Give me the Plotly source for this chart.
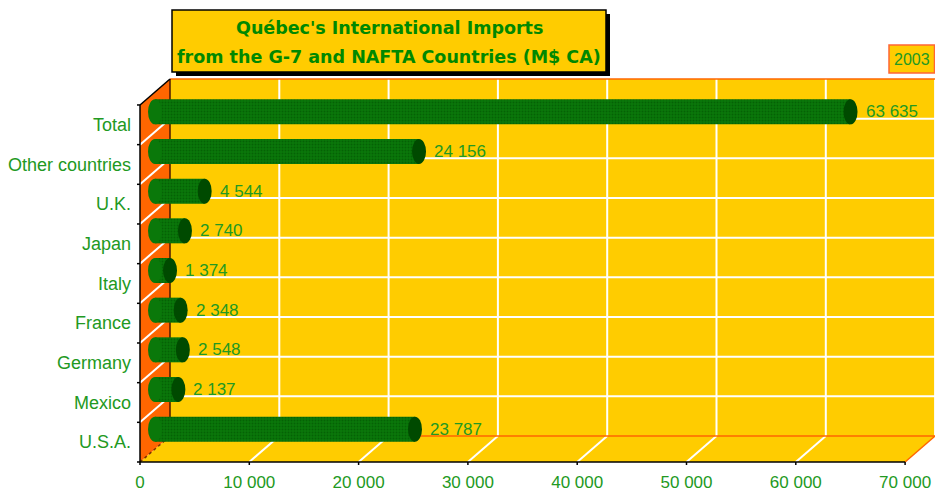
import plotly.graph_objects as go

# ---------------- data ----------------
categories = ["U.S.A.", "Mexico", "Germany", "France", "Italy", "Japan", "U.K.",
              "Other countries", "Total"]
values = [23787, 2137, 2548, 2348, 1374, 2740, 4544, 24156, 63635]
x_ticks = [0, 10000, 20000, 30000, 40000, 50000, 60000, 70000]
title_lines = ["Québec's International Imports",
               "from the G-7 and NAFTA Countries (M$ CA)"]
year_label = "2003"

# ---------------- geometry / style ----------------
W, H = 935, 491
X0_PX, PX_PER_X = 140, 109.3 / 10000      # pixel of x=0 on front plane, px per unit
Y0_PX, PX_PER_Y = 462, 39.67              # pixel of y=0 on front plane, px per category
DX = 30 / PX_PER_X                        # depth offset (data units)
DY = 26 / PX_PER_Y
XMAX = x_ticks[-1]
N = len(categories)

L, R, T, B = 134, 935, 77, 466
x_range = [(L - X0_PX) / PX_PER_X, (R - X0_PX) / PX_PER_X]
y_range = [(Y0_PX - B) / PX_PER_Y, (Y0_PX - T) / PX_PER_Y]


def fx(px):
    return (px - L) / (R - L)


def fy(py):
    return (B - py) / (B - T)


GOLD = "#FFCC00"
ORANGE = "#FF6600"
WHITE = "#FFFFFF"
GREEN_TXT = "#229922"
BAR_GREEN = "#0A780A"
BAR_DARK = "#004A00"
FONT = "Liberation Sans, Arial, sans-serif"
TITLE_FONT = "DejaVu Sans, Verdana, sans-serif"

BAR_W = 0.63
CAP_HALF = 7 / PX_PER_X

shapes = []


def line(x0, y0, x1, y1, color, width=1.5, dash=None, layer="below"):
    d = dict(type="line", xref="x", yref="y", x0=x0, y0=y0, x1=x1, y1=y1,
             line=dict(color=color, width=width), layer=layer)
    if dash:
        d["line"]["dash"] = dash
    shapes.append(d)


def path(pts, fill):
    p = "M " + " L ".join(f"{x},{y}" for x, y in pts) + " Z"
    shapes.append(dict(type="path", xref="x", yref="y", path=p, fillcolor=fill,
                       line=dict(width=0), layer="below"))


# walls and floor
path([(DX, DY), (XMAX + DX, DY), (XMAX + DX, N + DY), (DX, N + DY)], GOLD)
path([(0, 0), (XMAX, 0), (XMAX + DX, DY), (DX, DY)], GOLD)
path([(0, 0), (DX, DY), (DX, N + DY), (0, N)], ORANGE)

# grid lines
for k in x_ticks[1:]:
    line(k + DX, DY, k + DX, N + DY, WHITE, 2)
    if k < XMAX:
        line(k, 0, k + DX, DY, WHITE, 2)
for i in range(1, N):
    line(DX, i + DY, XMAX + DX, i + DY, WHITE, 2)
    line(0, i, DX, i + DY, WHITE, 2)

# edges
line(DX, N + DY, XMAX + DX, N + DY, ORANGE, 1.5)
line(DX, DY, XMAX + DX, DY, ORANGE, 1.5)
line(XMAX, 0, XMAX + DX, DY, ORANGE, 1.5)
line(DX, DY, DX, N + DY, "#4A1800", 1.5)
line(0, N, DX, N + DY, "#000000", 1.5)
line(0, 0, DX, DY, "#7A3300", 1.5, dash="dot")
line(0, 0, 0, N, "#000000", 1.5)
line(0, 0, XMAX, 0, "#000000", 1.5)
for i in range(N + 1):
    line(-3 / PX_PER_X, i, 0, i, "#000000", 1.5)
for k in x_ticks:
    line(k, 0, k, -3 / PX_PER_Y, "#000000", 1.5)

# bar centres (mid-depth)
yc = [i + 0.5 + DY / 2 for i in range(N)]

# end caps of cylinders
for v, y in zip(values, yc):
    shapes.append(dict(type="circle", xref="x", yref="y",
                       x0=DX / 2 - CAP_HALF, x1=DX / 2 + CAP_HALF,
                       y0=y - BAR_W / 2, y1=y + BAR_W / 2,
                       fillcolor=BAR_GREEN, line=dict(width=0), layer="above"))
    shapes.append(dict(type="circle", xref="x", yref="y",
                       x0=v + DX / 2 - CAP_HALF, x1=v + DX / 2 + CAP_HALF,
                       y0=y - BAR_W / 2, y1=y + BAR_W / 2,
                       fillcolor=BAR_DARK, line=dict(width=0), layer="above"))

# title box and year box (paper coords)
shapes.append(dict(type="rect", xref="paper", yref="paper",
                   x0=fx(176), x1=fx(610), y0=fy(76), y1=fy(14),
                   fillcolor="#000000", line=dict(width=0)))
shapes.append(dict(type="rect", xref="paper", yref="paper",
                   x0=fx(172), x1=fx(606), y0=fy(72), y1=fy(10),
                   fillcolor=GOLD, line=dict(color="#000000", width=1.5)))
shapes.append(dict(type="rect", xref="paper", yref="paper",
                   x0=fx(889), x1=fx(934.5), y0=fy(73), y1=fy(45),
                   fillcolor=GOLD, line=dict(color="#FF6633", width=1.5)))

annotations = []
for v, y in zip(values, yc):
    annotations.append(dict(x=v + DX / 2, y=y, xref="x", yref="y",
                            text=f"{v:,}".replace(",", " "), showarrow=False,
                            xanchor="left", yanchor="middle", xshift=13,
                            font=dict(family=FONT, size=17, color=GREEN_TXT)))
for txt, py in zip(title_lines, [28, 57]):
    annotations.append(dict(x=fx(389), y=fy(py), xref="paper", yref="paper",
                            text=f"<b>{txt}</b>", showarrow=False,
                            xanchor="center", yanchor="middle",
                            font=dict(family=TITLE_FONT, size=17.5, color="#008800")))
annotations.append(dict(x=fx(912), y=fy(59), xref="paper", yref="paper",
                        text=year_label, showarrow=False,
                        xanchor="center", yanchor="middle",
                        font=dict(family=FONT, size=16, color=GREEN_TXT)))

fig = go.Figure()
fig.add_trace(go.Bar(
    y=yc, x=values, base=DX / 2, orientation="h", width=BAR_W,
    marker=dict(color=BAR_GREEN, line=dict(width=0),
                pattern=dict(shape=".", fgcolor=BAR_DARK, bgcolor=BAR_GREEN,
                             size=3, solidity=0.35)),
    hoverinfo="skip", showlegend=False,
))

fig.update_layout(
    width=W, height=H,
    margin=dict(l=L, r=W - R, t=T, b=H - B, pad=0),
    paper_bgcolor="#FFFFFF", plot_bgcolor="#FFFFFF",
    shapes=shapes, annotations=annotations,
    showlegend=False,
    font=dict(family=FONT, color=GREEN_TXT),
    xaxis=dict(range=x_range, tickvals=x_ticks,
               ticktext=[f"{t:,}".replace(",", " ") for t in x_ticks],
               ticks="", showgrid=False, zeroline=False, showline=False,
               automargin=False, ticklabelstandoff=4,
               tickfont=dict(family=FONT, size=17, color=GREEN_TXT)),
    yaxis=dict(range=y_range, tickvals=[i + 0.5 for i in range(N)],
               ticktext=categories, ticks="", showgrid=False, zeroline=False,
               showline=False, automargin=False, ticklabelstandoff=2,
               tickfont=dict(family=FONT, size=18, color=GREEN_TXT)),
)

fig.write_html("out.html",
               config={"displayModeBar": False},
               post_script="document.body.style.margin='0';"
                           "document.body.style.padding='0';")
